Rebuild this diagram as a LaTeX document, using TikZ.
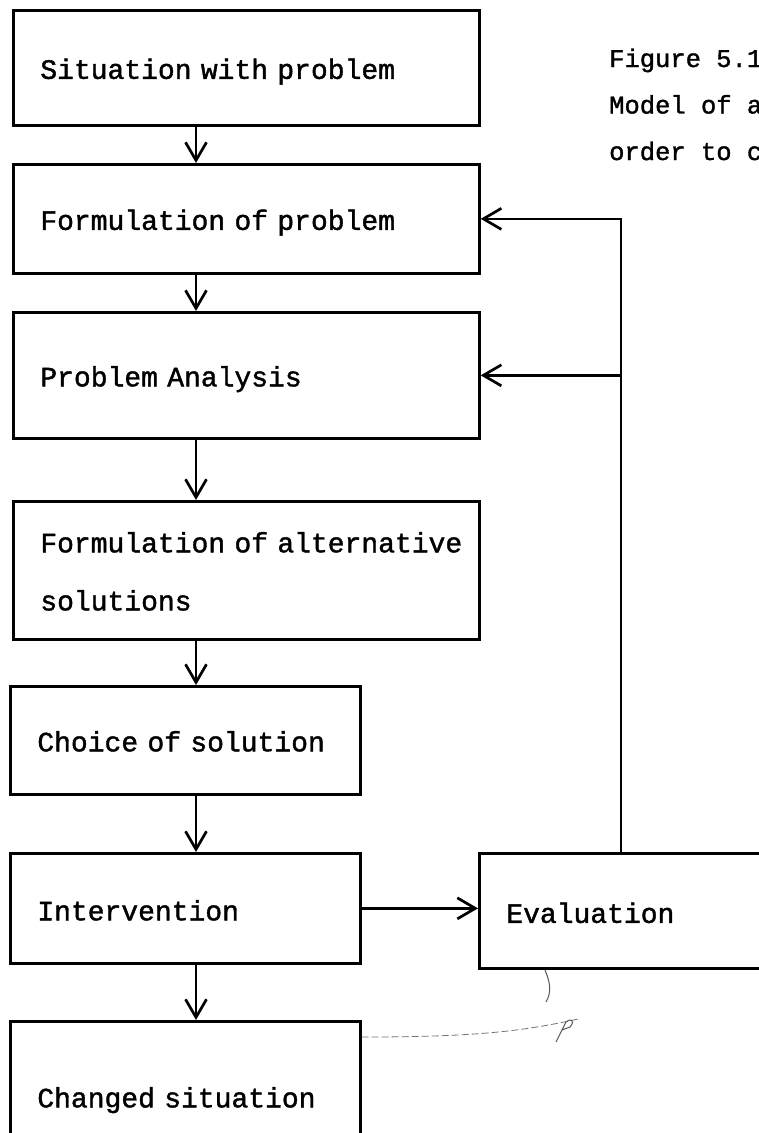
\documentclass[tikz,border=0pt]{standalone}
\usepackage{fontspec}
\usepackage{tikz}
\usetikzlibrary{arrows.meta,positioning,calc}
\newfontfamily\typewr[FakeBold=1.4,WordSpace={1,0,0}]{Liberation Mono}
% full-cell spaces for the typewriter face
\newcommand{\twfont}[1]{\typewr\fontsize{#1}{58}\selectfont\fontdimen2\font=0.6em\relax}

\begin{document}
\begin{tikzpicture}[
    x=1pt, y=-1pt,
    stage/.style={draw, line width=2.7pt, anchor=north west, align=left, inner xsep=27pt, inner ysep=0pt,
        text height=22pt, text depth=0pt, font=\twfont{28}},
    wide/.style={stage, minimum width=466pt, text width=412pt},
    narrow/.style={stage, minimum width=350pt, text width=296pt},
    arrow/.style={-{Straight Barb[length=18pt,width=21pt]}, line width=2.7pt},
    pencil/.style={black!55, line width=0.8pt, dash pattern=on 7pt off 3pt}
]
\clip (0,0) rectangle (759,1133);
\fill[white] (0,0) rectangle (759,1133);

% caption, cut by the page edge (base = last line)
\node[anchor=base west, align=left, inner sep=0pt, font={\twfont{25.5}\baselineskip=46.5pt}] (cap) at (609,160)
    {Figure 5.1\\Model of a\\order to c};

% main chain
\node[wide, minimum height=115pt] (sit) at (12,9) {Situation with problem};
\node[wide, minimum height=109pt] (form) at (12,163) {Formulation of problem};
\node[wide, minimum height=126pt] (ana) at (12,311) {Problem Analysis};
\node[wide, minimum height=138pt, text depth=58pt] (alt) at (12,500) {\mbox{Formulation of alternative}\\solutions};
\node[narrow, minimum height=108pt] (choice) at (9,685) {Choice of solution};
\node[narrow, minimum height=110pt, text height=24pt] (interv) at (9,852) {Intervention};
\node[narrow, minimum height=150pt] (chg) at (9,1020) {Changed situation};
\node[stage, minimum width=320pt, text width=266pt, minimum height=115pt, text height=24pt] (eval) at (478,852) {Evaluation};

\coordinate (axis) at (196,0);
\coordinate (fb) at (621,0);

\draw[arrow] (sit.south -| axis) -- (form.north -| axis);
\draw[arrow] (form.south -| axis) -- (ana.north -| axis);
\draw[arrow] (ana.south -| axis) -- (alt.north -| axis);
\draw[arrow] (alt.south -| axis) -- (choice.north -| axis);
\draw[arrow] (choice.south -| axis) -- (interv.north -| axis);
\draw[arrow] (interv.south -| axis) -- (chg.north -| axis);
\draw[arrow] (interv.east) -- (interv.east -| eval.west);

% feedback from evaluation
\draw[arrow] (eval.north -| fb) |- (form.east);
\draw[arrow] (fb |- ana.east) -- (ana.east);

% pencilled link
\draw[pencil] ([yshift=-17pt]chg.north east) .. controls (470,1037) and (520,1032) .. (578,1019);
\draw[black!65, line width=1pt] (545,970) .. controls (550,982) and (552,992) .. (546,1002);
\draw[black!65, line width=1pt] (556,1042) -- (566,1022) .. controls (570,1018) and (576,1020) .. (570,1027) -- (562,1030);
\end{tikzpicture}
\end{document}
